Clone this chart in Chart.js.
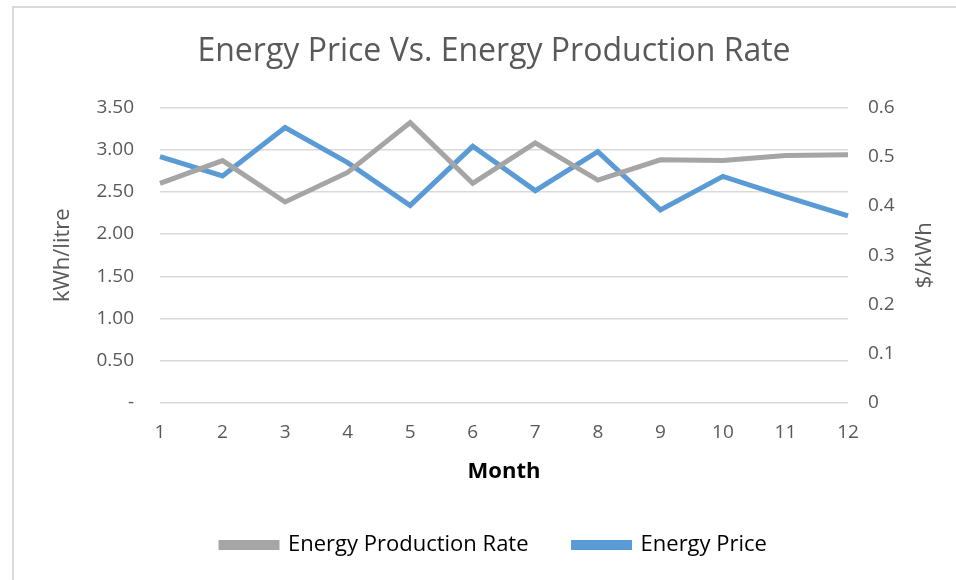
<div id="frame"></div>
<canvas id="myChart" width="956" height="580"></canvas>
<style>
  html, body { margin: 0; padding: 0; background: #fff; overflow: hidden; }
  #frame {
    position: absolute; left: 12px; top: 6px;
    width: 1000px; height: 600px;
    border: 2px solid #d9d9d9;
  }
  canvas { position: absolute; left: 0; top: 0; }
</style>
<script src="https://cdn.jsdelivr.net/npm/chart.js@4.4.1/dist/chart.umd.min.js"></script>
<script>
const months = ['1','2','3','4','5','6','7','8','9','10','11','12'];
const productionRate = [2.60, 2.87, 2.38, 2.73, 3.32, 2.60, 3.08, 2.64, 2.88, 2.87, 2.93, 2.94];
const energyPrice = [0.500, 0.461, 0.559, 0.488, 0.401, 0.521, 0.431, 0.510, 0.392, 0.460, 0.419, 0.380];
const leftTicks = [0, 0.5, 1, 1.5, 2, 2.5, 3, 3.5];
const rightTicks = [0, 0.1, 0.2, 0.3, 0.4, 0.5, 0.6];

const FONT = "'Open Sans', 'Noto Sans', sans-serif";
const GREY = '#595959';

// right axis title reads bottom-to-top like the left one, so draw it by hand
const rightTitle = {
  id: 'rightTitle',
  afterDraw(chart) {
    const s = chart.scales.y1;
    const c = chart.ctx;
    c.save();
    c.translate(s.right - 13, (chart.chartArea.top + chart.chartArea.bottom) / 2);
    c.rotate(-Math.PI / 2);
    c.fillStyle = GREY;
    c.font = "22px " + FONT;
    c.textAlign = 'center';
    c.textBaseline = 'middle';
    c.fillText('$/kWh', 0, 0);
    c.restore();
  }
};

const ctx = document.getElementById('myChart').getContext('2d');
const myChart = new Chart(ctx, {
  type: 'line',
  data: {
    labels: months,
    datasets: [{
      label: 'Energy Production Rate',
      data: productionRate,
      borderColor: '#a5a5a5',
      backgroundColor: '#a5a5a5',
      borderWidth: 5,
      pointRadius: 0,
      tension: 0,
      yAxisID: 'y'
    }, {
      label: 'Energy Price',
      data: energyPrice,
      borderColor: '#5b9bd5',
      backgroundColor: '#5b9bd5',
      borderWidth: 5,
      pointRadius: 0,
      tension: 0,
      yAxisID: 'y1'
    }]
  },
  plugins: [rightTitle],
  options: {
    responsive: false,
    animation: false,
    layout: { padding: { left: 50, right: 18, top: 10, bottom: 14 } },
    plugins: {
      title: {
        display: true,
        text: 'Energy Price Vs. Energy Production Rate',
        color: GREY,
        font: { family: FONT, size: 32, weight: 'normal' },
        padding: { top: 23, bottom: 36 }
      },
      legend: {
        position: 'bottom',
        labels: {
          color: '#000',
          font: { family: FONT, size: 22 },
          boxWidth: 56,
          boxHeight: 5,
          padding: 45
        }
      },
      tooltip: { enabled: false }
    },
    scales: {
      x: {
        grid: { display: false },
        border: { display: false },
        ticks: { color: GREY, font: { family: FONT, size: 19 }, padding: 10, maxRotation: 0 },
        title: { display: true, text: 'Month', color: '#000', font: { family: FONT, size: 22, weight: 'bold' }, padding: { top: 0, bottom: 4 } },
        afterFit: (s) => { s.height = 86; }
      },
      y: {
        position: 'left',
        min: 0, max: 3.5,
        afterBuildTicks: (s) => { s.ticks = leftTicks.map(v => ({ value: v })); },
        grid: { color: '#d9d9d9', lineWidth: 1.5, drawTicks: false },
        border: { display: false },
        ticks: {
          color: GREY, font: { family: FONT, size: 19 }, padding: 26,
          callback: (v) => v === 0 ? '-' : v.toFixed(2)
        },
        title: { display: true, text: 'kWh/litre', color: GREY, font: { family: FONT, size: 22 }, padding: 0 },
        afterFit: (s) => { s.width = 110; }
      },
      y1: {
        position: 'right',
        min: 0, max: 0.6,
        afterBuildTicks: (s) => { s.ticks = rightTicks.map(v => ({ value: v })); },
        grid: { display: false, drawTicks: false },
        border: { display: false },
        ticks: {
          color: GREY, font: { family: FONT, size: 19 }, padding: 20,
          callback: (v) => v === 0 ? '0' : String(v)
        },
        title: { display: false },
        afterFit: (s) => { s.width = 90; }
      }
    }
  }
});
</script>
